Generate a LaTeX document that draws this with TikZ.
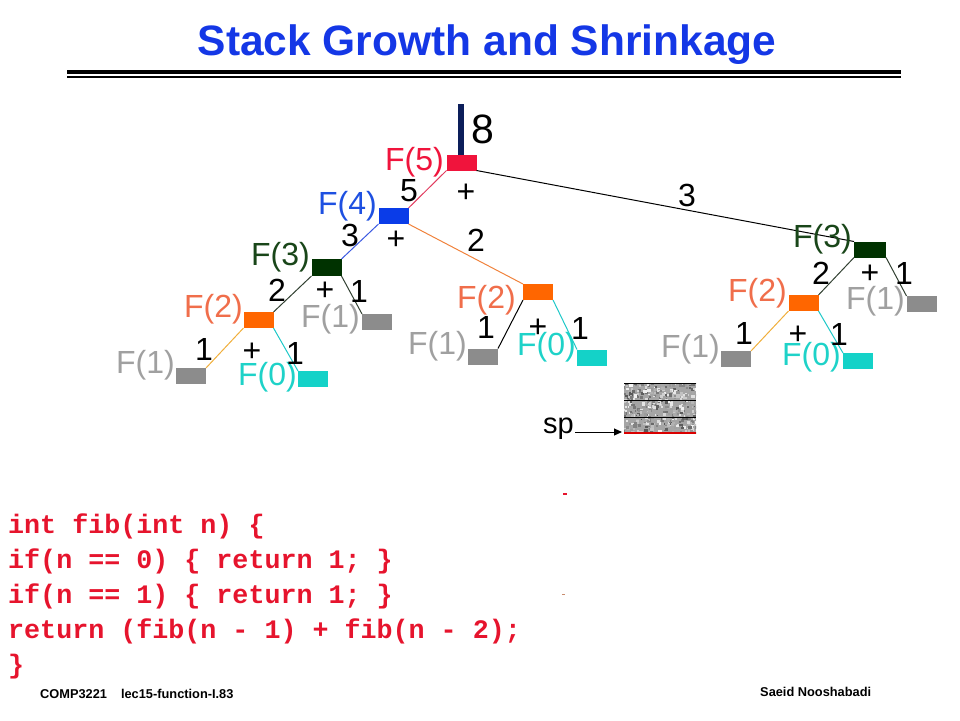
\documentclass[tikz,border=0pt]{standalone}
\usepackage{fontspec}
\setmainfont{Liberation Sans}
\setmonofont{Liberation Mono}
\usetikzlibrary{arrows.meta}
\definecolor{titleblue}{RGB}{20,55,230}
\definecolor{cred}{RGB}{240,20,60}
\definecolor{navy}{RGB}{12,30,90}
\definecolor{cblue}{RGB}{10,60,232}
\definecolor{lblue}{RGB}{30,80,225}
\definecolor{cgreen}{RGB}{0,50,0}
\definecolor{lgreen}{RGB}{25,70,25}
\definecolor{corange}{RGB}{255,102,0}
\definecolor{lorange}{RGB}{240,110,75}
\definecolor{cgray}{RGB}{140,140,140}
\definecolor{lgray}{RGB}{160,160,160}
\definecolor{ccyan}{RGB}{20,210,200}
\definecolor{lcyan}{RGB}{30,210,200}
\definecolor{codered}{RGB}{230,20,45}
\definecolor{lnred}{RGB}{225,60,95}
\definecolor{lnblue}{RGB}{60,90,225}
\definecolor{lnorange}{RGB}{240,130,60}
\definecolor{lnyellow}{RGB}{240,175,60}
\definecolor{lncyan}{RGB}{30,200,200}
\definecolor{lndark}{RGB}{50,65,50}
\definecolor{stackgray}{RGB}{165,165,165}
\definecolor{marktan}{RGB}{200,140,110}
\tikzset{
  fbox/.style={minimum width=30pt, minimum height=16pt, inner sep=0pt, outer sep=0pt},
  flab/.style={inner sep=0pt, anchor=east, font=\fontsize{32}{32}\selectfont},
  num/.style={inner sep=0pt, font=\fontsize{32}{32}\selectfont},
  conn/.style={line width=1pt},
  codeline/.style={anchor=base west, inner sep=0pt, text=codered, font=\ttfamily\bfseries\fontsize{26.7}{30}\selectfont},
  foot/.style={anchor=base west, inner sep=0pt, font=\bfseries\fontsize{12.8}{14}\selectfont}
}
\begin{document}
\begin{tikzpicture}[x=1pt,y=-1pt]
\useasboundingbox (0,0) rectangle (960,720);
% title
\node[anchor=base, inner sep=0pt, text=titleblue, font=\bfseries\fontsize{42.5}{48}\selectfont] (title) at (487,55) {Stack Growth and Shrinkage};
\fill[black] (67,69.5) rectangle (901,73.5);
\fill[black] (67,76) rectangle (901,77.5);

% navy bar
\fill[navy] (458,104) rectangle (464,155);

% boxes
\node[fbox, fill=cred] (F5) at (461.5,162.5) {};
\node[fbox, fill=cblue] (F4) at (393.5,216) {};
\node[fbox, fill=cgreen, minimum height=17pt] (F3L) at (326.5,267.5) {};
\node[fbox, fill=corange] (F2L) at (258.5,320) {};
\node[fbox, fill=cgray] (F1a) at (377,322) {};
\node[fbox, fill=cgray] (F1b) at (191,376) {};
\node[fbox, fill=ccyan] (F0L) at (313,379) {};
\node[fbox, fill=corange] (F2M) at (538,292) {};
\node[fbox, fill=cgray] (F1M) at (483,356.5) {};
\node[fbox, fill=ccyan] (F0M) at (592,357.5) {};
\node[fbox, fill=cgreen, minimum width=32pt] (F3R) at (870,249.5) {};
\node[fbox, fill=cgray] (F1R) at (921.5,304) {};
\node[fbox, fill=corange] (F2R) at (803.5,303) {};
\node[fbox, fill=cgray] (F1S) at (736,359) {};
\node[fbox, fill=ccyan] (F0R) at (858,361) {};

% connectors
\draw[conn, lnred] (F5.south west) -- (F4.north east);
\draw[conn, black] (F5.south east) -- (F3R.north west);
\draw[conn, lnblue] (F4.south west) -- (F3L.north east);
\draw[conn, lnorange] (F4.south east) -- (F2M.north west);
\draw[conn, lndark] (F3L.south west) -- (F2L.north east);
\draw[conn, lndark] (F3L.south east) -- (F1a.north west);
\draw[conn, lnyellow] (F2L.south west) -- (F1b.north east);
\draw[conn, lncyan] (F2L.south east) -- (F0L.north west);
\draw[conn, black] (F2M.south west) -- (F1M.north east);
\draw[conn, lncyan] (F2M.south east) -- (F0M.north west);
\draw[conn, lndark] (F3R.south west) -- (F2R.north east);
\draw[conn, lndark] (F3R.south east) -- (F1R.north west);
\draw[conn, lnyellow] (F2R.south west) -- (F1S.north east);
\draw[conn, lncyan] (F2R.south east) -- (F0R.north west);

% labels
\node[flab, text=cred] (lF5) at (444,162) {F(5)};
\node[flab, text=lblue] (lF4) at (377,206) {F(4)};
\node[flab, text=lgreen] (lF3L) at (310,257) {F(3)};
\node[flab, text=lorange] (lF2L) at (243,309) {F(2)};
\node[flab, text=lgray] (lF1a) at (360,319) {F(1)};
\node[flab, text=lgray] (lF1b) at (175,365) {F(1)};
\node[flab, text=lcyan] (lF0L) at (297,377) {F(0)};
\node[flab, text=lorange] (lF2M) at (516,300) {F(2)};
\node[flab, text=lgray] (lF1M) at (467,346) {F(1)};
\node[flab, text=lcyan] (lF0M) at (576,347) {F(0)};
\node[flab, text=lgreen] (lF3R) at (852,239) {F(3)};
\node[flab, text=lorange] (lF2R) at (787,293) {F(2)};
\node[flab, text=lgray] (lF1R) at (905,301) {F(1)};
\node[flab, text=lgray] (lF1S) at (720,349) {F(1)};
\node[flab, text=lcyan] (lF0R) at (841,357) {F(0)};

% numbers
\node[num, font=\fontsize{41}{41}\selectfont] (n8) at (483,129) {8};
\node[num] (a1) at (409,191) {5};
\node[num] (a2) at (466,193) {+};
\node[num] (a3) at (350,235) {3};
\node[num] (a4) at (396,240) {+};
\node[num] (a5) at (476,240) {2};
\node[num] (a6) at (687,195) {3};
\node[num] (b1) at (277,290) {2};
\node[num] (b2) at (325,291) {+};
\node[num] (b3) at (359,291) {1};
\node[num] (c1) at (204,349) {1};
\node[num] (c2) at (252,352) {+};
\node[num] (c3) at (295,353) {1};
\node[num] (d1) at (486,327) {1};
\node[num] (d2) at (538,328) {+};
\node[num] (d3) at (580,328) {1};
\node[num] (e1) at (821,273) {2};
\node[num] (e2) at (870,274) {+};
\node[num] (e3) at (904,273) {1};
\node[num] (f1) at (744,333) {1};
\node[num] (f2) at (798,335) {+};
\node[num] (f3) at (839,334) {1};

% stack
\begin{scope}
\clip (624,383) rectangle (696,433);
\fill[stackgray] (624,383) rectangle (696,433);
\pgfmathsetseed{11}
\foreach \i in {1,...,450} {
  \pgfmathsetmacro\xx{622+76*rnd}
  \pgfmathsetmacro\yy{381+54*rnd}
  \pgfmathsetmacro\cc{int(35+62*rnd)}
  \pgfmathsetmacro\ss{1.5+2*rnd}
  \fill[white!\cc!black] (\xx,\yy) rectangle ++(\ss,\ss);
}
\end{scope}
\node[minimum width=72pt, minimum height=50pt, inner sep=0pt, outer sep=0pt] (stack) at (660,408) {};
\draw[line width=1pt] (stack.north west) -- (stack.north east);
\draw[line width=1pt] (624,400) -- (696,400);
\draw[line width=1pt] (624,417) -- (696,417);
\draw[line width=1.2pt, red!85!black] (stack.south west) -- (stack.south east);

\node[anchor=base west, inner sep=0pt, font=\fontsize{29}{29}\selectfont] (sp) at (543,433) {sp};
\draw[line width=1pt, -{Triangle[length=8pt,width=7pt]}] ([xshift=1pt,yshift=1pt]sp.base east) -- ([xshift=-2pt,yshift=1pt]stack.south west);

% tiny marks
\draw[line width=1.3pt, codered] (563,494) -- (567,494);
\draw[line width=1pt, marktan] (562,594) -- (565,594);

% code
\node[codeline] (c1l) at (8,533) {int fib(int n) \{};
\node[codeline] (c2l) at (8,568) {if(n == 0) \{ return 1; \}};
\node[codeline] (c3l) at (8,603) {if(n == 1) \{ return 1; \}};
\node[codeline] (c4l) at (8,638) {return (fib(n - 1) + fib(n - 2);};
\node[codeline] (c5l) at (8,673) {\}};

% footer
\node[foot] (ft1) at (40,698) {COMP3221\hspace{14pt}lec15-function-I.83};
\node[foot] (ft2) at (760,696) {Saeid Nooshabadi};
\end{tikzpicture}
\end{document}
